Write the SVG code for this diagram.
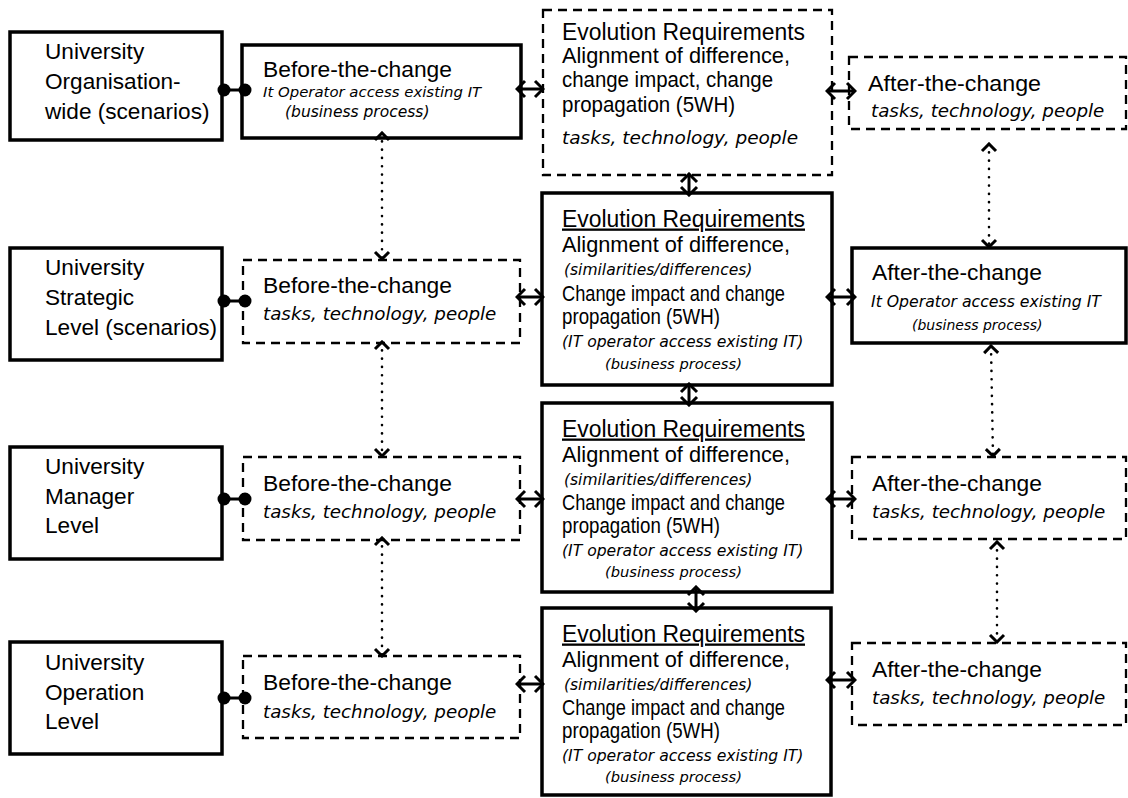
<svg xmlns="http://www.w3.org/2000/svg" width="1128" height="798" viewBox="0 0 1128 798">
<style>
.solid{fill:#fff;stroke:#000;stroke-width:3.5}
.dash{fill:#fff;stroke:#000;stroke-width:2.3;stroke-dasharray:9 6}
.t{font-family:"Liberation Sans",Arial,sans-serif;font-size:22px;fill:#000}
.lt{font-size:22.6px}
.i{font-family:"DejaVu Sans",sans-serif;font-style:italic;fill:#000}
.s18{font-size:18.3px}
.s15{font-size:15.6px}
.s14{font-size:14.7px}
.arr{fill:none;stroke:#000;stroke-width:3;marker-start:url(#chev);marker-end:url(#chev)}
.dot{fill:none;stroke:#000;stroke-width:2.6;stroke-dasharray:0.1 8.2;stroke-linecap:round;marker-start:url(#chev2);marker-end:url(#chev2)}
.bar{stroke:#000;stroke-width:3}
</style>
<defs>
<marker id="chev" viewBox="-12 -10 14 20" refX="0" refY="0" markerWidth="14" markerHeight="20" markerUnits="userSpaceOnUse" orient="auto-start-reverse">
<path d="M-8,-8 L0,0 L-8,8" fill="none" stroke="#000" stroke-width="3"/>
</marker>
<marker id="chev2" viewBox="-12 -10 14 20" refX="0" refY="0" markerWidth="14" markerHeight="20" markerUnits="userSpaceOnUse" orient="auto-start-reverse">
<path d="M-7,-7 L0,0 L-7,7" fill="none" stroke="#000" stroke-width="3"/>
</marker>
</defs>

<g id="L1"><rect class="solid" x="10" y="32" width="212" height="108"/>
<text class="t lt" x="45" y="59">University</text><text class="t lt" x="45" y="89">Organisation-</text><text class="t lt" x="45" y="119">wide (scenarios)</text></g>
<g id="L2"><rect class="solid" x="10" y="248" width="212" height="112"/>
<text class="t lt" x="45" y="275">University</text><text class="t lt" x="45" y="305">Strategic</text><text class="t lt" x="45" y="335">Level (scenarios)</text></g>
<g id="L3"><rect class="solid" x="10" y="447" width="212" height="112"/>
<text class="t lt" x="45" y="474">University</text><text class="t lt" x="45" y="504">Manager</text><text class="t lt" x="45" y="533">Level</text></g>
<g id="L4"><rect class="solid" x="10" y="642" width="212" height="112"/>
<text class="t lt" x="45" y="670">University</text><text class="t lt" x="45" y="700">Operation</text><text class="t lt" x="45" y="729">Level</text></g>

<g id="B1"><rect class="solid" x="242" y="45" width="279" height="93"/>
<text class="t" x="263" y="77" textLength="189" lengthAdjust="spacingAndGlyphs">Before-the-change</text>
<text class="i" x="263" y="97" style="font-size:14.9px">It Operator access existing IT</text>
<text class="i" x="285" y="117" style="font-size:15.5px">(business process)</text></g>
<g id="B2"><rect class="dash" x="243" y="260" width="277" height="83"/>
<text class="t" x="263" y="293" textLength="189" lengthAdjust="spacingAndGlyphs">Before-the-change</text>
<text class="i s18" x="263" y="320">tasks, technology, people</text></g>
<g id="B3"><rect class="dash" x="243" y="457" width="277" height="83"/>
<text class="t" x="263" y="491" textLength="189" lengthAdjust="spacingAndGlyphs">Before-the-change</text>
<text class="i s18" x="263" y="518">tasks, technology, people</text></g>
<g id="B4"><rect class="dash" x="243" y="656" width="277" height="82"/>
<text class="t" x="263" y="690" textLength="189" lengthAdjust="spacingAndGlyphs">Before-the-change</text>
<text class="i s18" x="263" y="718">tasks, technology, people</text></g>

<g id="E1"><rect class="dash" x="543" y="10" width="289" height="165"/>
<text class="t" x="562" y="40" style="font-size:23px" textLength="243" lengthAdjust="spacingAndGlyphs">Evolution Requirements</text>
<text class="t" x="562" y="63" textLength="228" lengthAdjust="spacingAndGlyphs">Alignment of difference,</text>
<text class="t" x="562" y="87" textLength="211" lengthAdjust="spacingAndGlyphs">change impact, change</text>
<text class="t" x="562" y="112" textLength="173" lengthAdjust="spacingAndGlyphs">propagation (5WH)</text>
<text class="i" x="562" y="144" style="font-size:18.5px">tasks, technology, people</text></g>

<g id="E2"><rect class="solid" x="542" y="193" width="290" height="192"/>
<text class="t" x="562" y="226.5" style="font-size:23px" text-decoration="underline" textLength="243" lengthAdjust="spacingAndGlyphs">Evolution Requirements</text>
<text class="t" x="562" y="252" textLength="228" lengthAdjust="spacingAndGlyphs">Alignment of difference,</text>
<text class="i" x="564" y="275" style="font-size:15.5px">(similarities/differences)</text>
<text class="t" x="562" y="300.5" textLength="223" lengthAdjust="spacingAndGlyphs">Change impact and change</text>
<text class="t" x="562" y="323.5" textLength="158" lengthAdjust="spacingAndGlyphs">propagation (5WH)</text>
<text class="i s15" x="562" y="346.5">(IT operator access existing IT)</text>
<text class="i s14" x="605" y="368.5">(business process)</text></g>

<g id="E3"><rect class="solid" x="542" y="403" width="290" height="189"/>
<text class="t" x="562" y="436.5" style="font-size:23px" text-decoration="underline" textLength="243" lengthAdjust="spacingAndGlyphs">Evolution Requirements</text>
<text class="t" x="562" y="462" textLength="228" lengthAdjust="spacingAndGlyphs">Alignment of difference,</text>
<text class="i" x="564" y="484.5" style="font-size:15.5px">(similarities/differences)</text>
<text class="t" x="562" y="510" textLength="223" lengthAdjust="spacingAndGlyphs">Change impact and change</text>
<text class="t" x="562" y="533" textLength="158" lengthAdjust="spacingAndGlyphs">propagation (5WH)</text>
<text class="i s15" x="562" y="556">(IT operator access existing IT)</text>
<text class="i s14" x="605" y="577">(business process)</text></g>

<g id="E4"><rect class="solid" x="542" y="608" width="289" height="187"/>
<text class="t" x="562" y="641.5" style="font-size:23px" text-decoration="underline" textLength="243" lengthAdjust="spacingAndGlyphs">Evolution Requirements</text>
<text class="t" x="562" y="667" textLength="228" lengthAdjust="spacingAndGlyphs">Alignment of difference,</text>
<text class="i" x="564" y="689.5" style="font-size:15.5px">(similarities/differences)</text>
<text class="t" x="562" y="715" textLength="223" lengthAdjust="spacingAndGlyphs">Change impact and change</text>
<text class="t" x="562" y="738" textLength="158" lengthAdjust="spacingAndGlyphs">propagation (5WH)</text>
<text class="i s15" x="562" y="761">(IT operator access existing IT)</text>
<text class="i s14" x="605" y="782">(business process)</text></g>

<g id="A1"><rect class="dash" x="849" y="57" width="277" height="72"/>
<text class="t" x="868" y="90.5" textLength="173" lengthAdjust="spacingAndGlyphs">After-the-change</text>
<text class="i s18" x="871" y="117">tasks, technology, people</text></g>
<g id="A2"><rect class="solid" x="852" y="248" width="274" height="95"/>
<text class="t" x="872" y="280" textLength="170" lengthAdjust="spacingAndGlyphs">After-the-change</text>
<text class="i" x="871" y="306.5" style="font-size:15.7px">It Operator access existing IT</text>
<text class="i" x="912" y="330" style="font-size:14px">(business process)</text></g>
<g id="A3"><rect class="dash" x="852" y="457" width="274" height="82"/>
<text class="t" x="872" y="490.5" textLength="170" lengthAdjust="spacingAndGlyphs">After-the-change</text>
<text class="i s18" x="872" y="518">tasks, technology, people</text></g>
<g id="A4"><rect class="dash" x="852" y="643" width="274" height="82"/>
<text class="t" x="872" y="676.5" textLength="170" lengthAdjust="spacingAndGlyphs">After-the-change</text>
<text class="i s18" x="872" y="704">tasks, technology, people</text></g>

<g id="connectors">
<line class="bar" x1="224" y1="90" x2="245" y2="90"/><circle cx="224" cy="90" r="6.5"/><circle cx="245" cy="90" r="6.5"/>
<line class="bar" x1="224" y1="301" x2="245" y2="301"/><circle cx="224" cy="301" r="6.5"/><circle cx="245" cy="301" r="6.5"/>
<line class="bar" x1="224" y1="499" x2="245" y2="499"/><circle cx="224" cy="499" r="6.5"/><circle cx="245" cy="499" r="6.5"/>
<line class="bar" x1="224" y1="698" x2="245" y2="698"/><circle cx="224" cy="698" r="6.5"/><circle cx="245" cy="698" r="6.5"/>
<path class="arr" d="M517,89 L543,89"/>
<path class="arr" d="M827,91 L855,91"/>
<path class="arr" d="M517,297 L543,297"/>
<path class="arr" d="M827,297 L855,297"/>
<path class="arr" d="M517,499 L543,499"/>
<path class="arr" d="M827,499 L855,499"/>
<path class="arr" d="M517,684 L543,684"/>
<path class="arr" d="M827,680 L855,680"/>
<path class="arr" d="M689,174 L689,195"/>
<path class="arr" d="M689,384 L689,405"/>
<path class="arr" d="M696,587 L696,611"/>
<path class="dot" d="M382,133 L382,259"/>
<path class="dot" d="M382,342 L382,456"/>
<path class="dot" d="M382,538 L382,656"/>
<path class="dot" d="M989,144 L989,247"/>
<path class="dot" d="M991,346 L993,456"/>
<path class="dot" d="M997,542 L997,642"/>
</g>
</svg>
